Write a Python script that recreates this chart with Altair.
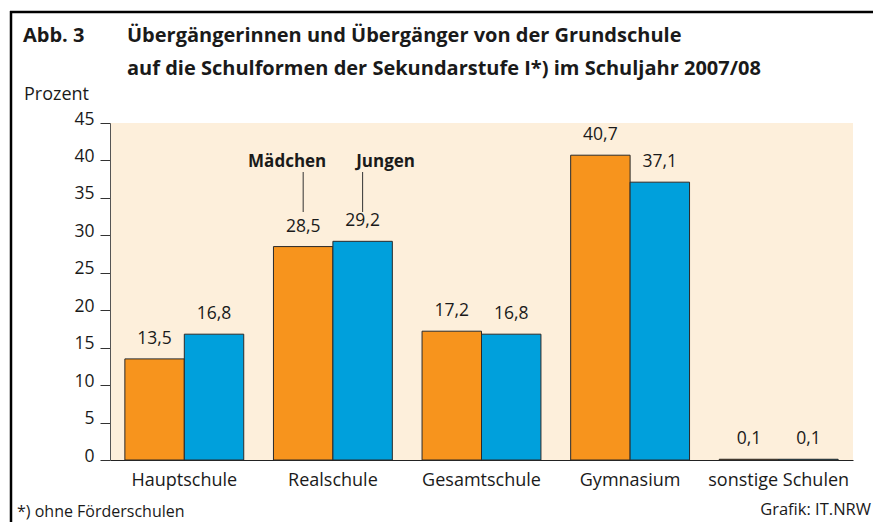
import altair as alt
import pandas as pd

schools = ["Hauptschule", "Realschule", "Gesamtschule", "Gymnasium", "sonstige Schulen"]
maedchen = [13.5, 28.5, 17.2, 40.7, 0.1]
jungen = [16.8, 29.2, 16.8, 37.1, 0.1]
genders = ["Mädchen", "Jungen"]
colors = ["#F7941D", "#00A0DC"]
y_ticks = [0, 5, 10, 15, 20, 25, 30, 35, 40, 45]

title_abb = "Abb. 3"
title_line1 = "Übergängerinnen und Übergänger von der Grundschule"
title_line2 = "auf die Schulformen der Sekundarstufe I*) im Schuljahr 2007/08"
y_title = "Prozent"
footnote = "*) ohne Förderschulen"
source = "Grafik: IT.NRW"

rows = []
for s, m, j in zip(schools, maedchen, jungen):
    rows.append({"school": s, "gender": genders[0], "value": m})
    rows.append({"school": s, "gender": genders[1], "value": j})
df = pd.DataFrame(rows)

FONT = "Open Sans"

x_enc = alt.X("school:N", sort=schools,
              scale=alt.Scale(paddingInner=0.2, paddingOuter=0.1),
              axis=alt.Axis(title=None, labelAngle=0, ticks=False, labelPadding=11,
                            labelFontSize=18, labelColor="#1a1a1a", domainColor="#222",
                            labelFont=FONT))
xoff = alt.XOffset("gender:N", sort=genders, scale=alt.Scale(paddingInner=0, paddingOuter=0))
y_enc = alt.Y("value:Q", scale=alt.Scale(domain=[0, 45], nice=False),
              axis=alt.Axis(title=None, values=y_ticks, grid=False, tickSize=10,
                            labelPadding=6, labelFontSize=17.5, labelBaseline="alphabetic",
                            labelOffset=1, labelOverlap=False, labelColor="#1a1a1a",
                            domainColor="#555", tickColor="#333", labelFont=FONT))

base = alt.Chart(df)

bars = base.mark_bar(stroke="#2a2a2a", strokeWidth=1).encode(
    x=x_enc, xOffset=xoff, y=y_enc,
    color=alt.Color("gender:N", sort=genders,
                    scale=alt.Scale(domain=genders, range=colors), legend=None),
)

vals = base.transform_calculate(
    label="replace(format(datum.value, '.1f'), '.', ',')"
).mark_text(baseline="alphabetic", dy=-15, fontSize=17.5, font=FONT, color="#1a1a1a").encode(
    x=x_enc, xOffset=xoff, y=y_enc, text="label:N"
)

def ann(gender, dx, rule_dx):
    sub = base.transform_filter(
        (alt.datum.school == "Realschule") & (alt.datum.gender == gender)
    )
    t = sub.mark_text(baseline="alphabetic", dx=dx, fontSize=17, fontWeight="bold",
                      font=FONT, color="#1a1a1a").encode(
        x=x_enc, xOffset=xoff,
        y=alt.value(44), text="gender:N")
    r = sub.mark_rule(color="#333", strokeWidth=1, xOffset=rule_dx).encode(
        x=x_enc, xOffset=xoff,
        y=alt.value(49), y2=alt.value(89))
    return t + r

ann_m = ann("Mädchen", -16, 0)
ann_j = ann("Jungen", 23, 3)

def txt(s, x, y, size, weight="normal", align="left"):
    return alt.Chart(pd.DataFrame({"t": [s]})).mark_text(
        align=align, baseline="alphabetic", fontSize=size, fontWeight=weight,
        font=FONT, color="#1a1a1a"
    ).encode(x=alt.value(x), y=alt.value(y), text="t:N")

texts = (
    txt(title_abb, -87, -81, 20, "bold")
    + txt(title_line1, 17, -81, 20, "bold")
    + txt(title_line2, 17, -48, 20, "bold")
    + txt(y_title, -86, -23, 18)
    + txt(footnote, -93, 394, 16)
    + txt(source, 761, 392, 16.5, align="right")
)

one = pd.DataFrame({"k": [0]})
border_top = alt.Chart(one).mark_rule(color="#000", strokeWidth=2.5).encode(
    x=alt.value(-100), x2=alt.value(763), y=alt.value(-111))
border_left = alt.Chart(one).mark_rule(color="#000", strokeWidth=2.5).encode(
    x=alt.value(-99), y=alt.value(-112), y2=alt.value(400))

chart = alt.layer(
    bars, vals, ann_m, ann_j, texts, border_top, border_left
).properties(
    width=743, height=337,
    autosize=alt.AutoSizeParams(type="none"),
    padding={"left": 102, "top": 115, "right": 20, "bottom": 62},
    view=alt.ViewBackground(fill="#FDEFDB", stroke=None),
).configure_view(
    fill="#FDEFDB", stroke=None
).configure(background="#ffffff")

chart.save("out.html", embed_options={"renderer": "svg", "actions": False})
